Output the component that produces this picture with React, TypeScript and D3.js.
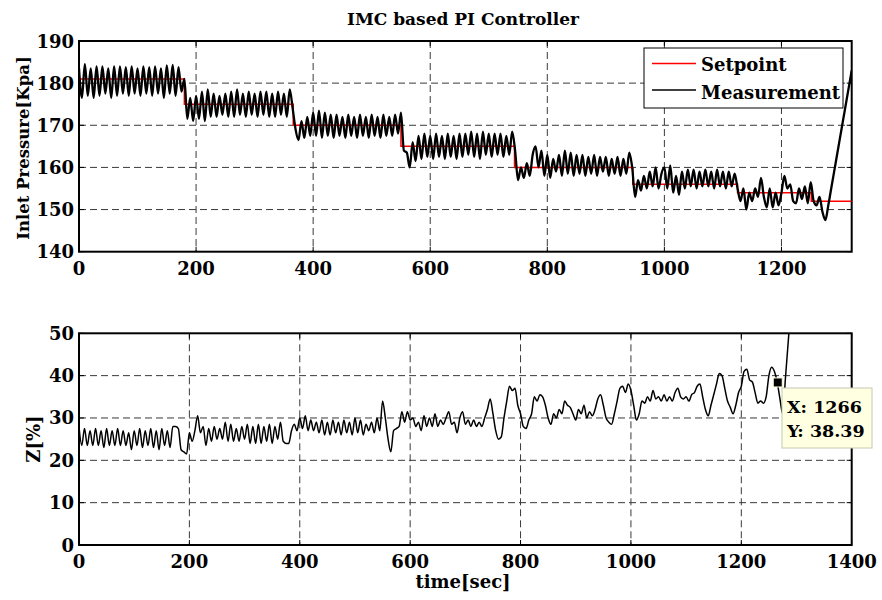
import React from "react"
import * as d3 from "d3"

// sampling step of the recorded signals [sec]
const DT = 5

// inlet pressure measurement [Kpa], one value every DT seconds from t = 0
const pressure = [
	183.5, 176.5, 184.5, 177, 183.5, 176.5, 184, 177, 184, 177.5,
	183.5, 176.5, 184, 177, 184, 177.5, 183.8, 177, 184, 177.5,
	183.5, 177, 184, 177.5, 183.8, 177, 184, 177.5, 183.5, 176.5,
	184.2, 177.5, 184.3, 177, 183.8, 178, 181, 171.5, 176.5, 171,
	177, 171.5, 178, 171, 178.5, 172, 177.5, 172, 177, 172.5,
	177.5, 172, 178, 172, 178.5, 172.5, 177.5, 172, 178, 172.5,
	177.5, 172, 178, 172.5, 178, 172, 177.5, 172, 178, 172.5,
	177.5, 172, 178.5, 174, 169, 166.5, 171, 167, 172, 167.5,
	173, 167.5, 173.5, 167, 173, 167.5, 172.5, 167, 172.5, 167.5,
	172, 167, 172.5, 167.5, 172, 167, 172.5, 167.5, 172, 167,
	172.5, 167.5, 172, 167, 172.5, 167.5, 172, 167.5, 172.5, 168,
	173, 164, 163.5, 160, 166, 161.5, 167.5, 162, 168, 162.5,
	167.5, 162, 168, 162.5, 167.5, 162, 168, 162.5, 167.5, 162,
	168, 162.5, 168, 163, 168.5, 162.5, 168, 162, 168.5, 163,
	168, 162.5, 168, 163, 168, 162.5, 167.5, 163, 168.5, 164,
	157, 160, 157.5, 161, 158, 163, 165, 160, 164, 158,
	163, 157.5, 162, 159, 163, 158, 164, 158.5, 163.5, 158,
	163, 158.5, 163, 158, 162.5, 158.5, 163, 158, 162.5, 159,
	162.5, 158, 162, 158.5, 162.5, 158, 162, 158.5, 163.5, 160,
	153, 157, 154.5, 158, 155, 159, 155.5, 160, 155, 158.5,
	160, 155, 160.5, 154, 158, 153.5, 159, 155, 159.5, 155.5,
	159.5, 155, 159, 155.5, 159.5, 155.5, 159, 155, 159.5, 155.5,
	159, 155, 159, 155.5, 158.5, 155, 152, 155, 150, 154,
	152, 155, 153, 157.5, 153, 150.5, 155, 150.5, 154, 151,
	154, 158, 155, 156, 152, 151.5, 155, 152.5, 155.5, 151.5,
	156.5, 152, 151, 153, 149.5, 147.5, 151, 155, 159, 163,
	167, 171, 175, 179, 183,
]

// setpoint steps: start time [sec] and level [Kpa]
const setpointTimes = [0, 180, 366, 550, 744, 946, 1125, 1251]
const setpointLevels = [181, 175, 170, 165, 160, 156, 154, 152]
const setpointEnd = 1320

// controller output Z [%], one value every DT seconds from t = 0
const zValues = [
	28, 23.5, 27.5, 23.5, 27, 23.5, 27.5, 23.5, 27, 23,
	27.5, 23.5, 27, 23.5, 27.5, 23.5, 27, 23.5, 26.5, 22.5,
	27, 23.5, 27.5, 23, 27, 23.5, 27.5, 23, 27, 22.5,
	27.5, 23.5, 27, 23, 28, 28, 27.5, 22.5, 22, 21.5,
	26.5, 24.5, 27, 30.5, 26.5, 28, 23.5, 27.5, 24.5, 28,
	25, 27.5, 25, 29, 24.5, 28.5, 24.5, 27.5, 24.5, 28,
	25, 28.5, 24, 28, 24, 28.5, 24, 28, 24.5, 28.5,
	24, 28, 25, 29, 24.5, 24, 24, 27, 28.5, 27,
	30, 27.5, 30.5, 27, 29.5, 27, 29, 26.5, 29.5, 26,
	29, 26, 29.5, 26.5, 29, 26, 29.5, 26.5, 29, 26,
	30, 26.5, 29.5, 26, 28.5, 27, 29, 26.5, 30, 27,
	34, 30, 25, 22, 27, 27.5, 28, 31.5, 29, 31.5,
	29.5, 30, 28, 29, 27, 30.5, 28, 30, 28, 31,
	28, 29.5, 28.5, 30, 31.5, 28.5, 29, 26.5, 30, 31.5,
	28.5, 29.5, 28, 29.5, 28, 29, 28, 30, 32, 34.5,
	31, 27, 25, 25.5, 30, 34, 37.5, 36.5, 37, 33,
	31, 28, 27.5, 29.5, 31, 35, 34, 35.5, 35, 33,
	30, 28.5, 31, 30, 32, 31, 34, 33, 32.5, 31,
	29.5, 32, 31, 33, 30, 31.5, 30.5, 32, 34.5, 35.5,
	33, 30, 29, 28.5, 31, 34, 37, 37.5, 36, 38,
	36.5, 33, 29.5, 31, 34, 33.5, 35, 34, 36.5, 34.5,
	35, 34, 35.5, 34, 35, 34, 36, 37, 35, 34.5,
	35, 34, 35.5, 36, 37.5, 38, 35, 32, 30.5, 33,
	35.5, 38, 40.5, 40, 37, 34, 32.5, 31, 33, 36,
	37.5, 41, 41.5, 39, 38.5, 36, 33.5, 34, 33.5, 35,
	40, 42, 41, 38.5, 34.5, 31, 39.5, 48, 56.5,
]

// data cursor
const tipX = 1266
const tipY = 38.39

// axis ticks
const topXTicks = [0, 200, 400, 600, 800, 1000, 1200]
const topYTicks = [140, 150, 160, 170, 180, 190]
const botXTicks = [0, 200, 400, 600, 800, 1000, 1200, 1400]
const botYTicks = [0, 10, 20, 30, 40, 50]

const FONT = "'DejaVu Serif', serif"
const FS = 18

/** Plot box: dashed grid, inward ticks, tick labels */
const Frame = ({ x, y, xTicks, yTicks, id }) => {
	const [x0, x1] = x.range()
	const [y0, y1] = y.range()
	return (
		<g>
			{xTicks.filter(t => x(t) > x0 + 1 && x(t) < x1 - 1).map(t => (
				<line key={"gx" + t} x1={x(t)} x2={x(t)} y1={y1} y2={y0} stroke="#3a3a3a" strokeDasharray="7,4" />
			))}
			{yTicks.filter(t => y(t) < y0 - 1 && y(t) > y1 + 1).map(t => (
				<line key={"gy" + t} x1={x0} x2={x1} y1={y(t)} y2={y(t)} stroke="#3a3a3a" strokeDasharray="7,4" />
			))}
			{xTicks.map(t => (
				<g key={"tx" + t}>
					<line x1={x(t)} x2={x(t)} y1={y0} y2={y0 - 5} stroke="#000" />
					<line x1={x(t)} x2={x(t)} y1={y1} y2={y1 + 5} stroke="#000" />
					<text x={x(t)} y={y0 + 23} textAnchor="middle">{t}</text>
				</g>
			))}
			{yTicks.map(t => (
				<g key={"ty" + t}>
					<line x1={x0} x2={x0 + 5} y1={y(t)} y2={y(t)} stroke="#000" />
					<line x1={x1} x2={x1 - 5} y1={y(t)} y2={y(t)} stroke="#000" />
					<text x={x0 - 5} y={y(t) + 6.5} textAnchor="end">{t}</text>
				</g>
			))}
			<rect x={x0} y={y1} width={x1 - x0} height={y0 - y1} fill="none" stroke="#000" strokeWidth={2} />
			<clipPath id={id}>
				<rect x={x0} y={y1} width={x1 - x0} height={y0 - y1} />
			</clipPath>
		</g>
	)
}

export default function App() {
	const left = 79
	const right = 851.7

	/** top plot scales */
	const xTop = d3.scaleLinear().domain([0, 1320]).range([left, right])
	const yTop = d3.scaleLinear().domain([140, 190]).range([251.7, 41])

	/** bottom plot scales */
	const xBot = d3.scaleLinear().domain([0, 1400]).range([left, right])
	const yBot = d3.scaleLinear().domain([0, 50]).range([545, 333.3])

	const spPoints = setpointTimes.map((t, i) => [t, setpointLevels[i]])
	spPoints.push([setpointEnd, setpointLevels[setpointLevels.length - 1]])
	const spPath = d3.line()
		.x(d => xTop(d[0]))
		.y(d => yTop(d[1]))
		.curve(d3.curveStepAfter)(spPoints)

	const measPath = d3.line()
		.x((d, i) => xTop(i * DT))
		.y(d => yTop(d))
		.curve(d3.curveMonotoneX)(pressure)

	const zPath = d3.line()
		.x((d, i) => xBot(i * DT))
		.y(d => yBot(d))
		.curve(d3.curveMonotoneX)(zValues)

	const tx = xBot(tipX)
	const ty = yBot(tipY)

	return (
		<svg width={882} height={600} style={{ position: "absolute", left: 0, top: 0, background: "#fff" }}
			fontFamily={FONT} fontWeight="bold" fontSize={FS}>
			<rect width={882} height={600} fill="#fff" />
			<text x={463} y={25} textAnchor="middle" fontSize={17}>IMC based PI Controller</text>

			{/* top plot */}
			<Frame x={xTop} y={yTop} xTicks={topXTicks} yTicks={topYTicks} id="clip-top" />
			<g clipPath="url(#clip-top)">
				<path d={spPath} fill="none" stroke="#ff0000" strokeWidth={1.5} />
				<path d={measPath} fill="none" stroke="#000" strokeWidth={2.3} strokeLinejoin="round" />
			</g>
			<text transform="translate(29,148) rotate(-90)" textAnchor="middle" fontSize={16.5}>Inlet Pressure[Kpa]</text>

			{/* legend */}
			<g>
				<rect x={644} y={48} width={199} height={60} fill="#fff" stroke="#000" />
				<line x1={652} x2={696} y1={63.5} y2={63.5} stroke="#ff0000" strokeWidth={1.5} />
				<text x={701} y={71}>Setpoint</text>
				<line x1={652} x2={696} y1={90} y2={90} stroke="#000" strokeWidth={1.5} />
				<text x={701} y={99}>Measurement</text>
			</g>

			{/* bottom plot */}
			<Frame x={xBot} y={yBot} xTicks={botXTicks} yTicks={botYTicks} id="clip-bot" />
			<g clipPath="url(#clip-bot)">
				<path d={zPath} fill="none" stroke="#000" strokeWidth={1.5} strokeLinejoin="round" />
			</g>
			<text transform="translate(40,439) rotate(-90)" textAnchor="middle">Z[%]</text>
			<text x={463} y={588} textAnchor="middle">time[sec]</text>

			{/* data cursor */}
			<rect x={tx - 4.5} y={ty - 4.5} width={9} height={9} fill="#000" stroke="#ffffe1" strokeWidth={1} />
			<rect x={782} y={388} width={90} height={60} fill="#ffffe1" stroke="#c8c8b4" />
			<text x={787} y={413} fontSize={17.5}>X: {tipX}</text>
			<text x={787} y={437} fontSize={17.5}>Y: {tipY}</text>
		</svg>
	)
}
